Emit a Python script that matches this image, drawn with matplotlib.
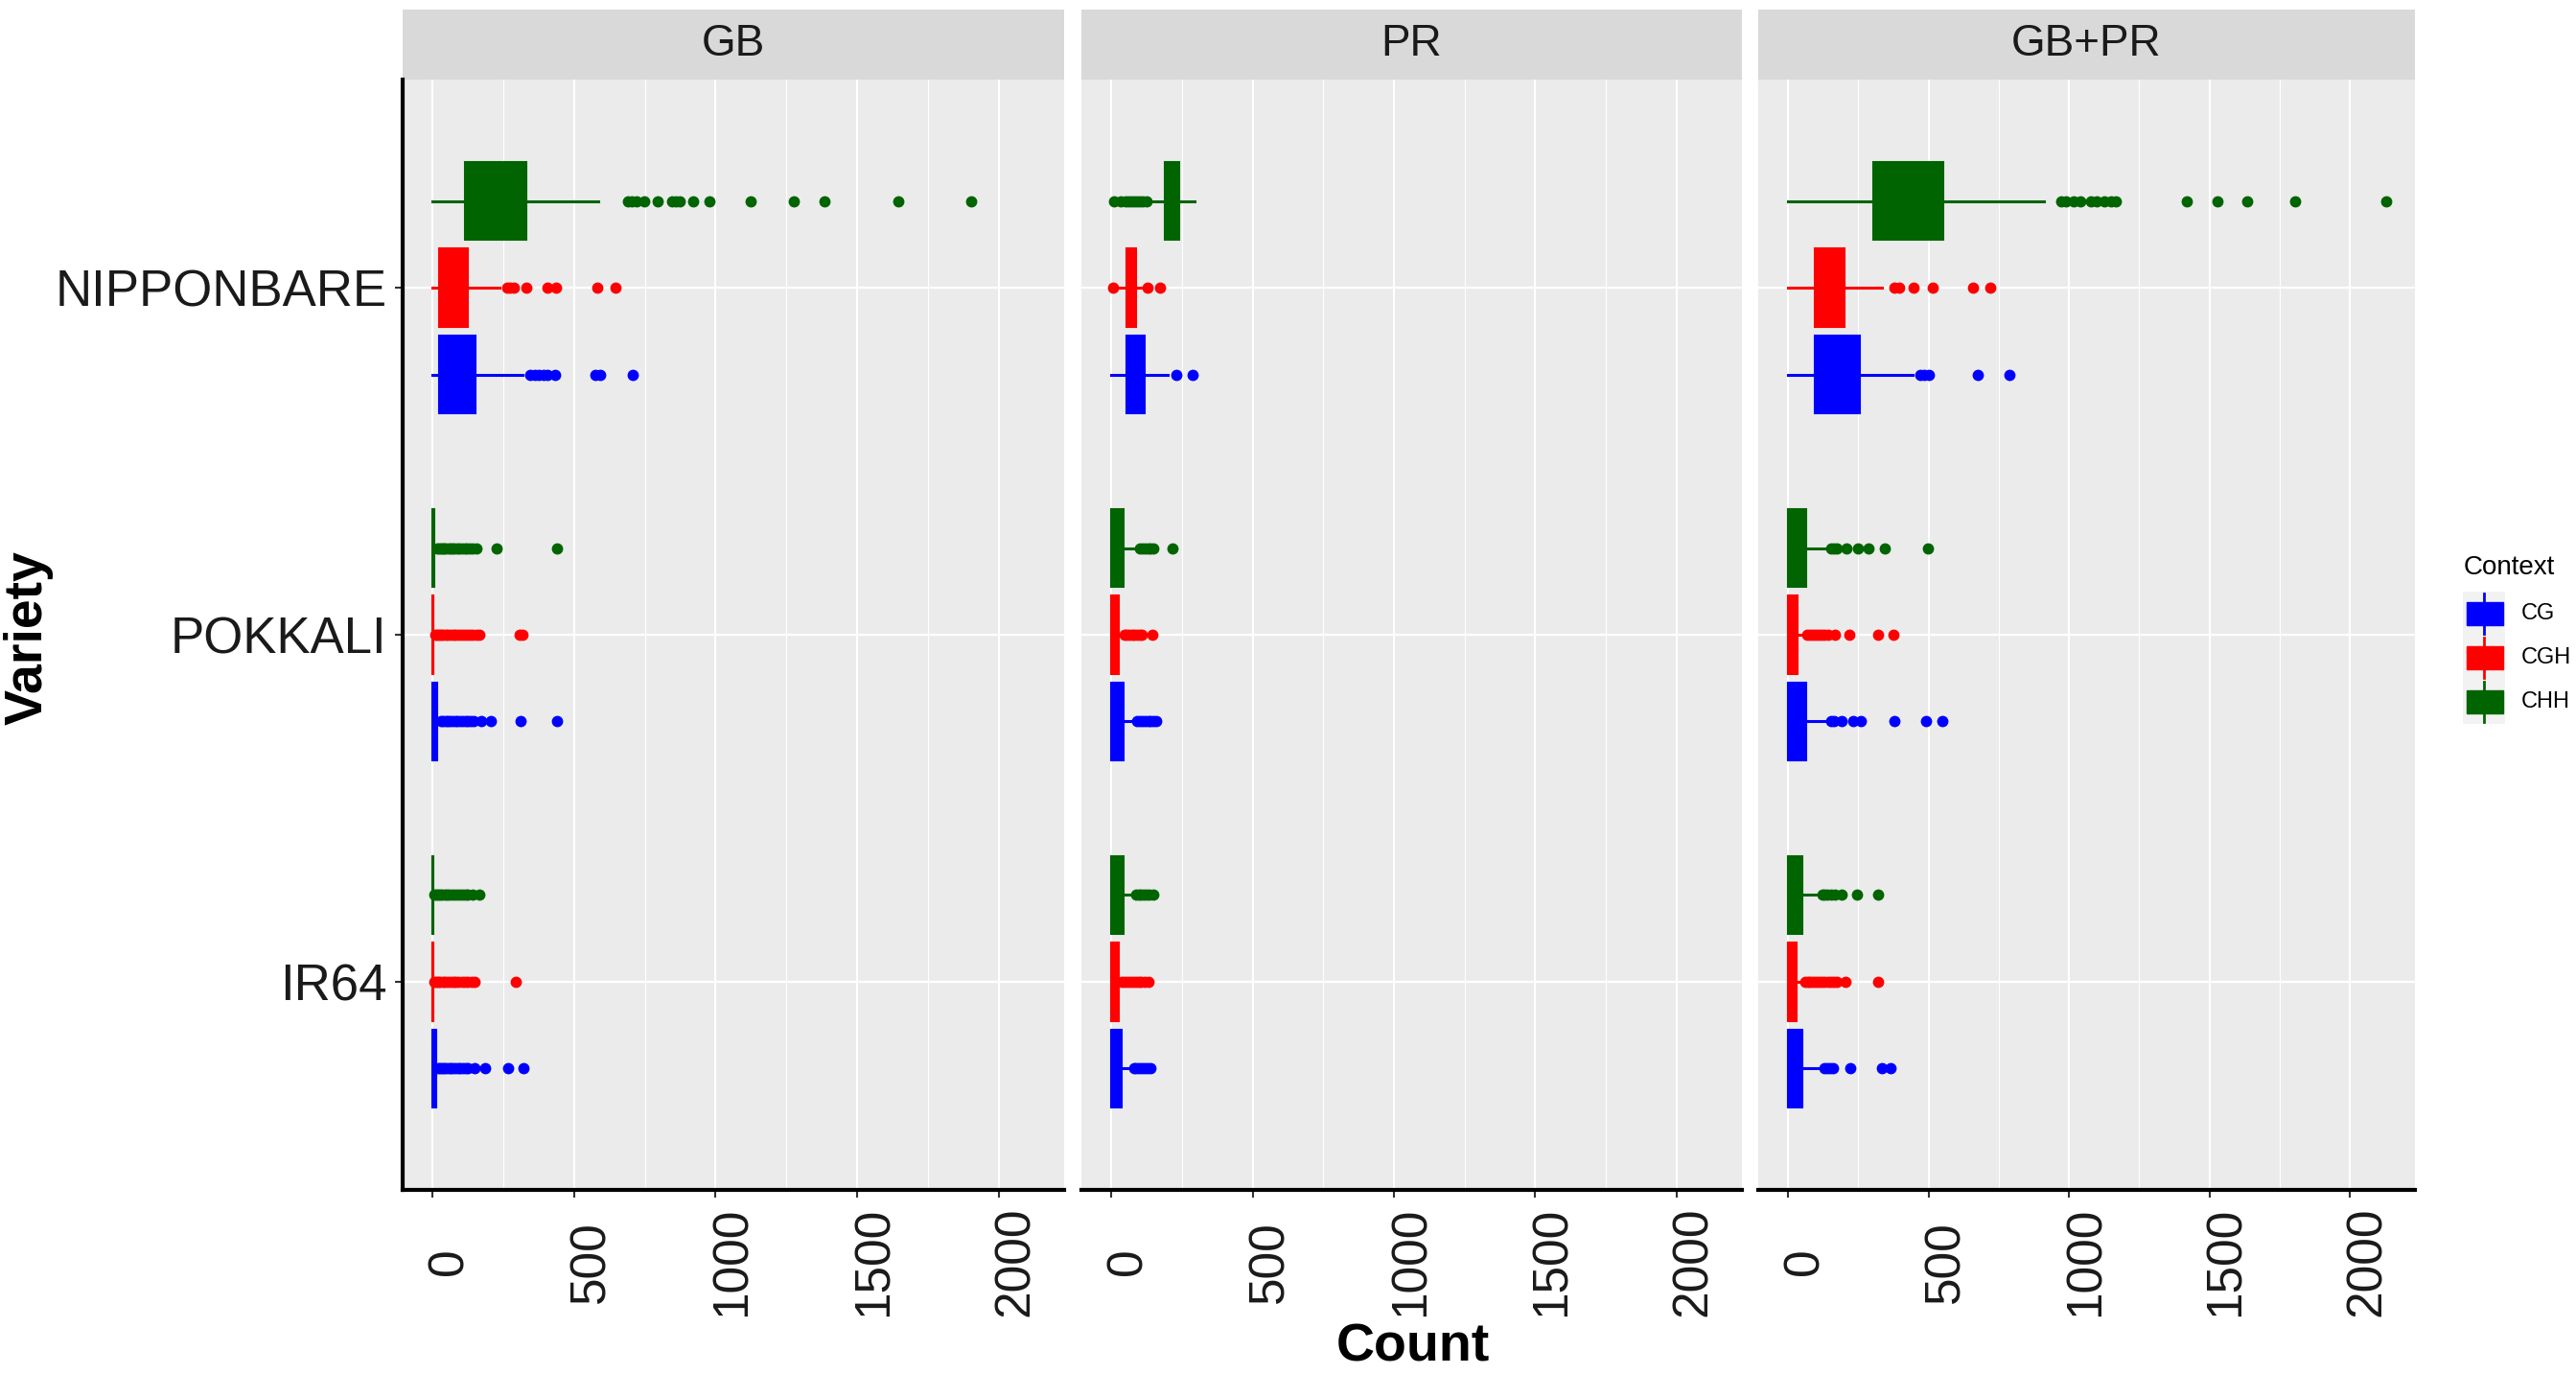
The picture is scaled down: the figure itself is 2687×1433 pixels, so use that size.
import matplotlib
matplotlib.use("Agg")
import matplotlib.pyplot as plt
import matplotlib.transforms as mtransforms
from matplotlib.patches import Rectangle
from matplotlib.lines import Line2D

plt.rcParams['font.family'] = ['Liberation Sans', 'DejaVu Sans']

W, H, DPI = 2687, 1433, 100

varieties = ["IR64", "POKKALI", "NIPPONBARE"]   # bottom -> top
panels = ["GB", "PR", "GB+PR"]
contexts = ["CG", "CGH", "CHH"]
colors = {"CG": "#0000FF", "CGH": "#FF0000", "CHH": "#006400"}
x_ticks = [0, 500, 1000, 1500, 2000]
x_minor = [250, 750, 1250, 1750]

# box stats per variety (IR64, POKKALI, NIPPONBARE): whislo, q1, med, q3, whishi
gb_cg_box = [(0, 0, 4, 12, 18), (0, 0, 5, 15, 25), (0, 24, 80, 153, 316)]
gb_cg_out = [
    [21, 27, 34, 41, 48, 56, 63, 71, 80, 89, 98, 108, 117, 126, 149, 187, 267, 320],
    [30, 37, 45, 53, 61, 70, 79, 88, 97, 106, 116, 126, 136, 145, 171, 205, 312, 441],
    [346, 360, 376, 392, 407, 434, 574, 592, 707],
]
gb_cgh_box = [(0, 0, 0, 1, 3), (0, 0, 1, 3, 6), (0, 24, 70, 126, 237)]
gb_cgh_out = [
    [6, 12, 19, 27, 35, 44, 53, 62, 72, 82, 92, 103, 114, 126, 138, 149, 293],
    [9, 16, 23, 30, 38, 46, 54, 63, 72, 81, 90, 100, 110, 121, 132, 143, 154, 164, 308, 319],
    [262, 275, 288, 331, 407, 437, 583, 645],
]
gb_chh_box = [(0, 0, 0, 1, 3), (0, 0, 1, 5, 12), (0, 114, 200, 331, 586)]
gb_chh_out = [
    [6, 12, 19, 26, 34, 42, 50, 58, 67, 76, 86, 96, 106, 116, 126, 141, 164],
    [16, 22, 28, 35, 41, 48, 55, 62, 70, 78, 86, 95, 104, 113, 122, 132, 141, 156, 225, 441],
    [690, 705, 722, 748, 797, 847, 860, 874, 922, 977, 1125, 1275, 1385, 1645, 1905],
]

pr_cg_box = [(0, 0, 15, 38, 64), (0, 0, 15, 44, 83), (0, 53, 80, 119, 200)]
pr_cg_out = [
    [79, 89, 99, 109, 119, 129, 139],
    [90, 100, 110, 120, 130, 140, 150, 159],
    [230, 286],
]
pr_cgh_box = [(0, 0, 8, 26, 33), (0, 0, 8, 26, 41), (25, 53, 70, 86, 110)]
pr_cgh_out = [
    [38, 47, 56, 66, 76, 86, 96, 106, 118, 132],
    [46, 55, 64, 73, 82, 91, 100, 109, 144],
    [5, 129, 173],
]
pr_chh_box = [(0, 0, 15, 44, 71), (0, 0, 15, 44, 94), (139, 188, 215, 241, 295)]
pr_chh_out = [
    [86, 96, 106, 116, 126, 136, 150],
    [101, 110, 120, 130, 140, 150, 218],
    [8, 33, 50, 60, 70, 80, 90, 100, 112, 124],
]

gbpr_cg_box = [(0, 0, 15, 50, 121), (0, 0, 20, 65, 144), (0, 94, 160, 255, 443)]
gbpr_cg_out = [
    [129, 140, 150, 159, 220, 334, 364],
    [152, 165, 190, 231, 258, 379, 490, 551],
    [470, 485, 501, 675, 789],
]
gbpr_cgh_box = [(0, 0, 8, 30, 53), (0, 0, 10, 33, 61), (0, 94, 140, 200, 334)]
gbpr_cgh_out = [
    [61, 70, 80, 90, 100, 110, 120, 131, 142, 153, 164, 175, 205, 319],
    [68, 78, 88, 98, 108, 118, 130, 144, 167, 217, 319, 375],
    [380, 395, 448, 516, 660, 721],
]
gbpr_chh_box = [(0, 0, 15, 50, 114), (0, 0, 20, 65, 144), (0, 303, 420, 554, 910)]
gbpr_chh_out = [
    [121, 131, 141, 152, 167, 190, 246, 319],
    [152, 163, 175, 209, 250, 288, 346, 498],
    [971, 990, 1017, 1040, 1077, 1100, 1127, 1150, 1168, 1419, 1528, 1636, 1806, 2130],
]

data = {
    ("GB", "CG"): (gb_cg_box, gb_cg_out),
    ("GB", "CGH"): (gb_cgh_box, gb_cgh_out),
    ("GB", "CHH"): (gb_chh_box, gb_chh_out),
    ("PR", "CG"): (pr_cg_box, pr_cg_out),
    ("PR", "CGH"): (pr_cgh_box, pr_cgh_out),
    ("PR", "CHH"): (pr_chh_box, pr_chh_out),
    ("GB+PR", "CG"): (gbpr_cg_box, gbpr_cg_out),
    ("GB+PR", "CGH"): (gbpr_cgh_box, gbpr_cgh_out),
    ("GB+PR", "CHH"): (gbpr_chh_box, gbpr_chh_out),
}


def fx(x):
    return x / W


def fy(y):
    return 1 - y / H


fig = plt.figure(figsize=(W / DPI, H / DPI), dpi=DPI)
fig.patch.set_facecolor("white")

# panel left/right edges in pixels
panel_px = [(420, 1110), (1128, 1817), (1834, 2519)]
top_px, bot_px = 83, 1241
strip_h = 73 / (bot_px - top_px)
label_shift = mtransforms.ScaledTranslation(18 / DPI, 0, fig.dpi_scale_trans)

axes = []
for pi, (panel, (l, r)) in enumerate(zip(panels, panel_px)):
    ax = fig.add_axes([fx(l), fy(bot_px), (r - l) / W, (bot_px - top_px) / H])
    axes.append(ax)
    ax.set_facecolor("#EBEBEB")
    ax.set_xlim(-106, 2232)
    ax.set_ylim(0.4, 3.6)
    ax.set_axisbelow(True)

    for ci, ctx in enumerate(contexts):
        box, out = data[(panel, ctx)]
        c = colors[ctx]
        stats = []
        for b, o in zip(box, out):
            stats.append(dict(whislo=b[0], q1=b[1], med=b[2], q3=b[3],
                              whishi=b[4], fliers=o))
        pos = [i + 1 + (ci - 1) * 0.25 for i in range(len(varieties))]
        ax.bxp(stats, positions=pos, widths=0.225, orientation='horizontal',
               patch_artist=True, showcaps=False, manage_ticks=False,
               boxprops=dict(facecolor=c, edgecolor=c, linewidth=1.5),
               whiskerprops=dict(color=c, linewidth=2.2),
               medianprops=dict(color=c, linewidth=1.5),
               flierprops=dict(marker='o', markerfacecolor=c, markeredgecolor=c,
                               markersize=7.5, linestyle='none'),
               zorder=3)

    ax.set_xticks(x_ticks)
    ax.set_xticklabels([str(t) for t in x_ticks])
    ax.set_xticks(x_minor, minor=True)
    ax.set_yticks([1, 2, 3])
    ax.grid(which='major', axis='x', color='white', linewidth=1.5)
    ax.grid(which='minor', axis='x', color='white', linewidth=0.8)
    ax.grid(which='major', axis='y', color='white', linewidth=1.6)
    ax.tick_params(which='minor', length=0)
    ax.tick_params(axis='x', length=6, width=1.5, color='#333333',
                   labelsize=37, labelcolor='#1A1A1A', labelrotation=90, pad=48)
    for lab in ax.get_xticklabels():
        lab.set_va('center')
        lab.set_transform(lab.get_transform() + label_shift)

    for s in ax.spines.values():
        s.set_visible(False)
    ax.spines['bottom'].set_visible(True)
    ax.spines['bottom'].set_color('black')
    ax.spines['bottom'].set_linewidth(3)
    if pi == 0:
        ax.spines['left'].set_visible(True)
        ax.spines['left'].set_color('black')
        ax.spines['left'].set_linewidth(3)
        ax.set_yticklabels(varieties)
        ax.tick_params(axis='y', length=6, width=1.5, color='#333333',
                       labelsize=38, labelcolor='#1A1A1A', pad=6)
    else:
        ax.tick_params(axis='y', length=0, labelleft=False)

    # facet strip
    ax.add_patch(Rectangle((0, 1), 1, strip_h, transform=ax.transAxes,
                           facecolor='#D9D9D9', edgecolor='none', clip_on=False))
    ax.text(0.5, 1 + strip_h / 2, panel, transform=ax.transAxes, ha='center',
            va='center', fontsize=33, color='#1A1A1A')

fig.text(fx(1474), fy(1405), "Count", ha='center', va='center',
         fontsize=40, fontweight='bold')
fig.text(fx(30), fy(665), "Variety", ha='center', va='center', rotation=90,
         fontsize=40, fontweight='bold')

# legend
fig.text(fx(2570), fy(592), "Context", ha='left', va='center', fontsize=20)
fig.patches.append(Rectangle((fx(2569), fy(755)), fx(44), 138 / H,
                             transform=fig.transFigure, facecolor='#F2F2F2',
                             edgecolor='none'))
for ctx, cy in zip(contexts, [640, 686, 732]):
    c = colors[ctx]
    fig.lines.append(Line2D([fx(2591), fx(2591)], [fy(cy + 21), fy(cy - 21)],
                            transform=fig.transFigure, color=c, linewidth=2))
    fig.patches.append(Rectangle((fx(2573), fy(cy + 12)), fx(38), 24 / H,
                                 transform=fig.transFigure, facecolor=c,
                                 edgecolor=c, linewidth=1))
    fig.text(fx(2630), fy(cy), ctx, ha='left', va='center', fontsize=17)

fig.savefig("out.png", dpi=DPI)
